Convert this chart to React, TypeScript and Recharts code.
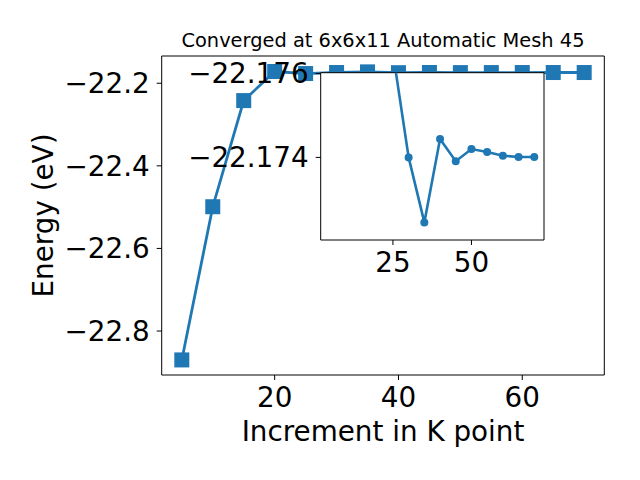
import React from 'react';
import { CartesianGrid, Line, LineChart, ReferenceArea, XAxis, YAxis } from 'recharts';

// k-point mesh increments and the total energy at each
const kPoints = [5, 10, 15, 20, 25, 30, 35, 40, 45, 50, 55, 60, 65, 70];
const energies = [
  -22.87, -22.499, -22.242, -22.1715, -22.1765, -22.174, -22.17245,
  -22.17444, -22.17391, -22.1742, -22.17413, -22.17404, -22.17401, -22.17401,
];
const mainXTicks = [20, 40, 60];
const mainYTicks = [-22.8, -22.6, -22.4, -22.2];
const insetXTicks = [25, 50];
const insetYTicks = [-22.176, -22.174];
const insetFrom = 25; // inset only shows the converged tail

const blue = '#1f77b4';
const data = kPoints.map((k, i) => ({ k, e: energies[i] }));
const insetData = data.filter((d) => d.k >= insetFrom);

const mainX: [number, number] = [1.75, 73.25];
const mainY: [number, number] = [-22.9065, -22.134];
const insetX: [number, number] = [2, 73.1];
const insetY: [number, number] = [-22.17602, -22.17203];

const fmt = (digits: number) => (v: number) => v.toFixed(digits).replace('-', '\u2212');
const tickStyle = { fill: '#000', fontSize: 27.8 };

const Square = (props: any) => {
  const { cx, cy, index } = props;
  return <rect key={'sq' + index} x={cx - 7.5} y={cy - 7.5} width={15} height={15} fill={blue} />;
};

export default function App() {
  return (
    <div style={{ position: 'absolute', left: 0, top: 0, width: 640, height: 480, background: '#fff', fontFamily: 'DejaVu Sans' }}>
      <div style={{ position: 'absolute', left: 161.7, width: 442.6, top: 29.6, fontSize: 19.4, lineHeight: '22px', textAlign: 'center', whiteSpace: 'nowrap' }}>
        Converged at 6x6x11 Automatic Mesh 45
      </div>
      <div style={{ position: 'absolute', left: 0, top: 0 }}>
        <LineChart width={640} height={480} data={data} margin={{ top: 56, right: 35.7, bottom: 0, left: 0 }}>
          <XAxis
            type="number"
            dataKey="k"
            domain={mainX}
            ticks={mainXTicks}
            height={105}
            axisLine={false}
            tickSize={5}
            tickMargin={7}
            tickLine={{ stroke: '#000' }}
            tick={tickStyle}
            label={{ value: 'Increment in K point', position: 'insideBottom', offset: 39, fill: '#000', fontSize: 27.8 }}
          />
          <YAxis
            type="number"
            domain={mainY}
            ticks={mainYTicks}
            width={161.7}
            axisLine={false}
            tickSize={5}
            tickMargin={7}
            tickLine={{ stroke: '#000' }}
            tick={tickStyle}
            tickFormatter={fmt(1)}
            label={{ value: 'Energy (eV)', angle: -90, position: 'insideLeft', offset: 43, fill: '#000', fontSize: 27.8, style: { textAnchor: 'middle' } }}
          />
          <ReferenceArea x1={mainX[0]} x2={mainX[1]} y1={mainY[0]} y2={mainY[1]} fill="none" stroke="#000" strokeWidth={1} fillOpacity={0} />
          <Line dataKey="e" stroke={blue} strokeWidth={2.8} dot={Square} isAnimationActive={false} />
        </LineChart>
      </div>
      <div style={{ position: 'absolute', left: 0, top: 0 }}>
        <LineChart width={640} height={480} data={insetData} margin={{ top: 72.7, right: 96, bottom: 0, left: 0 }}>
          <CartesianGrid horizontal={false} vertical={false} fill="#fff" />
          <XAxis
            type="number"
            dataKey="k"
            domain={insetX}
            ticks={insetXTicks}
            height={240}
            axisLine={false}
            tickSize={5}
            tickMargin={7}
            tickLine={{ stroke: '#000' }}
            tick={tickStyle}
          />
          <YAxis
            type="number"
            reversed
            allowDataOverflow
            domain={insetY}
            ticks={insetYTicks}
            width={320.7}
            axisLine={false}
            tickSize={5}
            tickMargin={7}
            tickLine={{ stroke: '#000' }}
            tick={tickStyle}
            tickFormatter={fmt(3)}
          />
          <ReferenceArea x1={insetX[0]} x2={insetX[1]} y1={insetY[0]} y2={insetY[1]} fill="none" stroke="#000" strokeWidth={1} fillOpacity={0} />
          <Line dataKey="e" stroke={blue} strokeWidth={2.6} dot={{ r: 4, fill: blue, stroke: blue, strokeWidth: 0 }} isAnimationActive={false} />
        </LineChart>
      </div>
    </div>
  );
}
